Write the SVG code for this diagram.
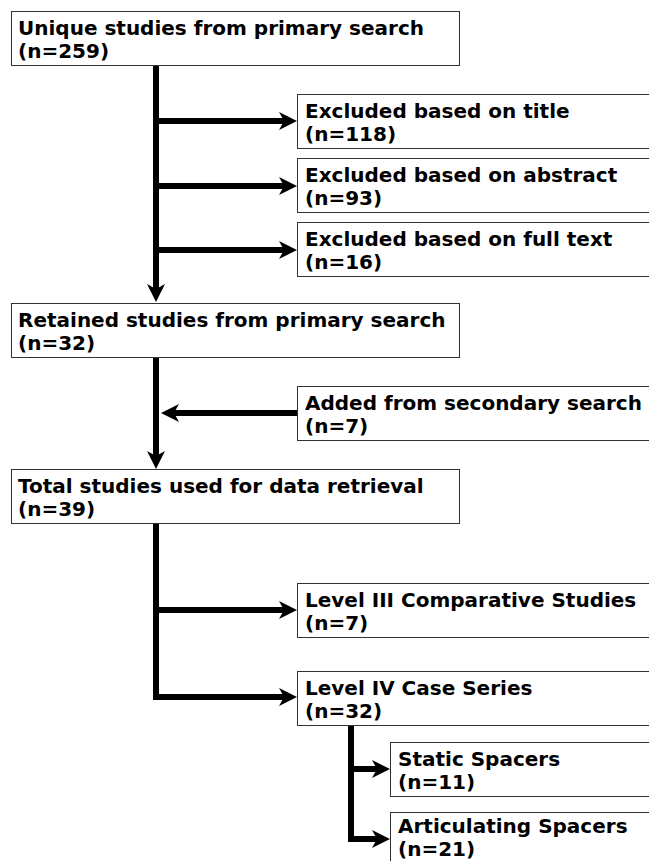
<svg xmlns="http://www.w3.org/2000/svg" width="649" height="861" viewBox="0 0 649 861">
<style>
.box{fill:#fff;stroke:#333;stroke-width:1}
.t{font-family:"DejaVu Sans","Verdana",sans-serif;font-weight:bold;font-size:20px;fill:#000}
.c{fill:none;stroke:#000;stroke-width:6;stroke-linejoin:miter;stroke-linecap:butt}
</style>
<defs>
<marker id="ah" markerUnits="userSpaceOnUse" markerWidth="20" markerHeight="20" refX="7" refY="9" orient="auto" overflow="visible">
<path d="M0,0 L18,9 L0,18 L5,9 Z" fill="#000"/>
</marker>
</defs>
<rect width="649" height="861" fill="#fff"/>
<g id="connectors">
<path class="c" d="M156,66 V291" marker-end="url(#ah)"/>
<path class="c" d="M156,121 H286" marker-end="url(#ah)"/>
<path class="c" d="M156,186 H286" marker-end="url(#ah)"/>
<path class="c" d="M156,250 H286" marker-end="url(#ah)"/>
<path class="c" d="M156,357 V458" marker-end="url(#ah)"/>
<path class="c" d="M297,413 H172" marker-end="url(#ah)"/>
<path class="c" d="M156,523 V697 H286" marker-end="url(#ah)"/>
<path class="c" d="M156,610 H286" marker-end="url(#ah)"/>
<path class="c" d="M351,725 V839 H379" marker-end="url(#ah)"/>
<path class="c" d="M351,769 H379" marker-end="url(#ah)"/>
</g>
<g id="unique">
<rect class="box" x="11.5" y="11.5" width="448" height="54"/>
<text class="t" x="18" y="35">Unique studies from primary search</text>
<text class="t" x="18" y="58">(n=259)</text>
</g>
<g id="excl-title">
<rect class="box" x="297.5" y="94.5" width="380" height="54"/>
<text class="t" x="305" y="118">Excluded based on title</text>
<text class="t" x="305" y="141">(n=118)</text>
</g>
<g id="excl-abstract">
<rect class="box" x="297.5" y="158.5" width="380" height="54"/>
<text class="t" x="305" y="182">Excluded based on abstract</text>
<text class="t" x="305" y="205">(n=93)</text>
</g>
<g id="excl-fulltext">
<rect class="box" x="297.5" y="222.5" width="380" height="54"/>
<text class="t" x="305" y="246">Excluded based on full text</text>
<text class="t" x="305" y="269">(n=16)</text>
</g>
<g id="retained">
<rect class="box" x="11.5" y="303.5" width="448" height="54"/>
<text class="t" x="18" y="327">Retained studies from primary search</text>
<text class="t" x="18" y="350">(n=32)</text>
</g>
<g id="added">
<rect class="box" x="297.5" y="386.5" width="380" height="54"/>
<text class="t" x="305" y="410">Added from secondary search</text>
<text class="t" x="305" y="433">(n=7)</text>
</g>
<g id="total">
<rect class="box" x="11.5" y="469.5" width="448" height="54"/>
<text class="t" x="18" y="493">Total studies used for data retrieval</text>
<text class="t" x="18" y="516">(n=39)</text>
</g>
<g id="level3">
<rect class="box" x="297.5" y="583.5" width="380" height="54"/>
<text class="t" x="305" y="607">Level III Comparative Studies</text>
<text class="t" x="305" y="630">(n=7)</text>
</g>
<g id="level4">
<rect class="box" x="297.5" y="671.5" width="380" height="54"/>
<text class="t" x="305" y="695">Level IV Case Series</text>
<text class="t" x="305" y="718">(n=32)</text>
</g>
<g id="static">
<rect class="box" x="390.5" y="742.5" width="300" height="54"/>
<text class="t" x="398" y="766">Static Spacers</text>
<text class="t" x="398" y="789">(n=11)</text>
</g>
<g id="articulating">
<rect class="box" x="390.5" y="812.5" width="300" height="54"/>
<text class="t" x="398" y="833">Articulating Spacers</text>
<text class="t" x="398" y="856">(n=21)</text>
</g>
</svg>
